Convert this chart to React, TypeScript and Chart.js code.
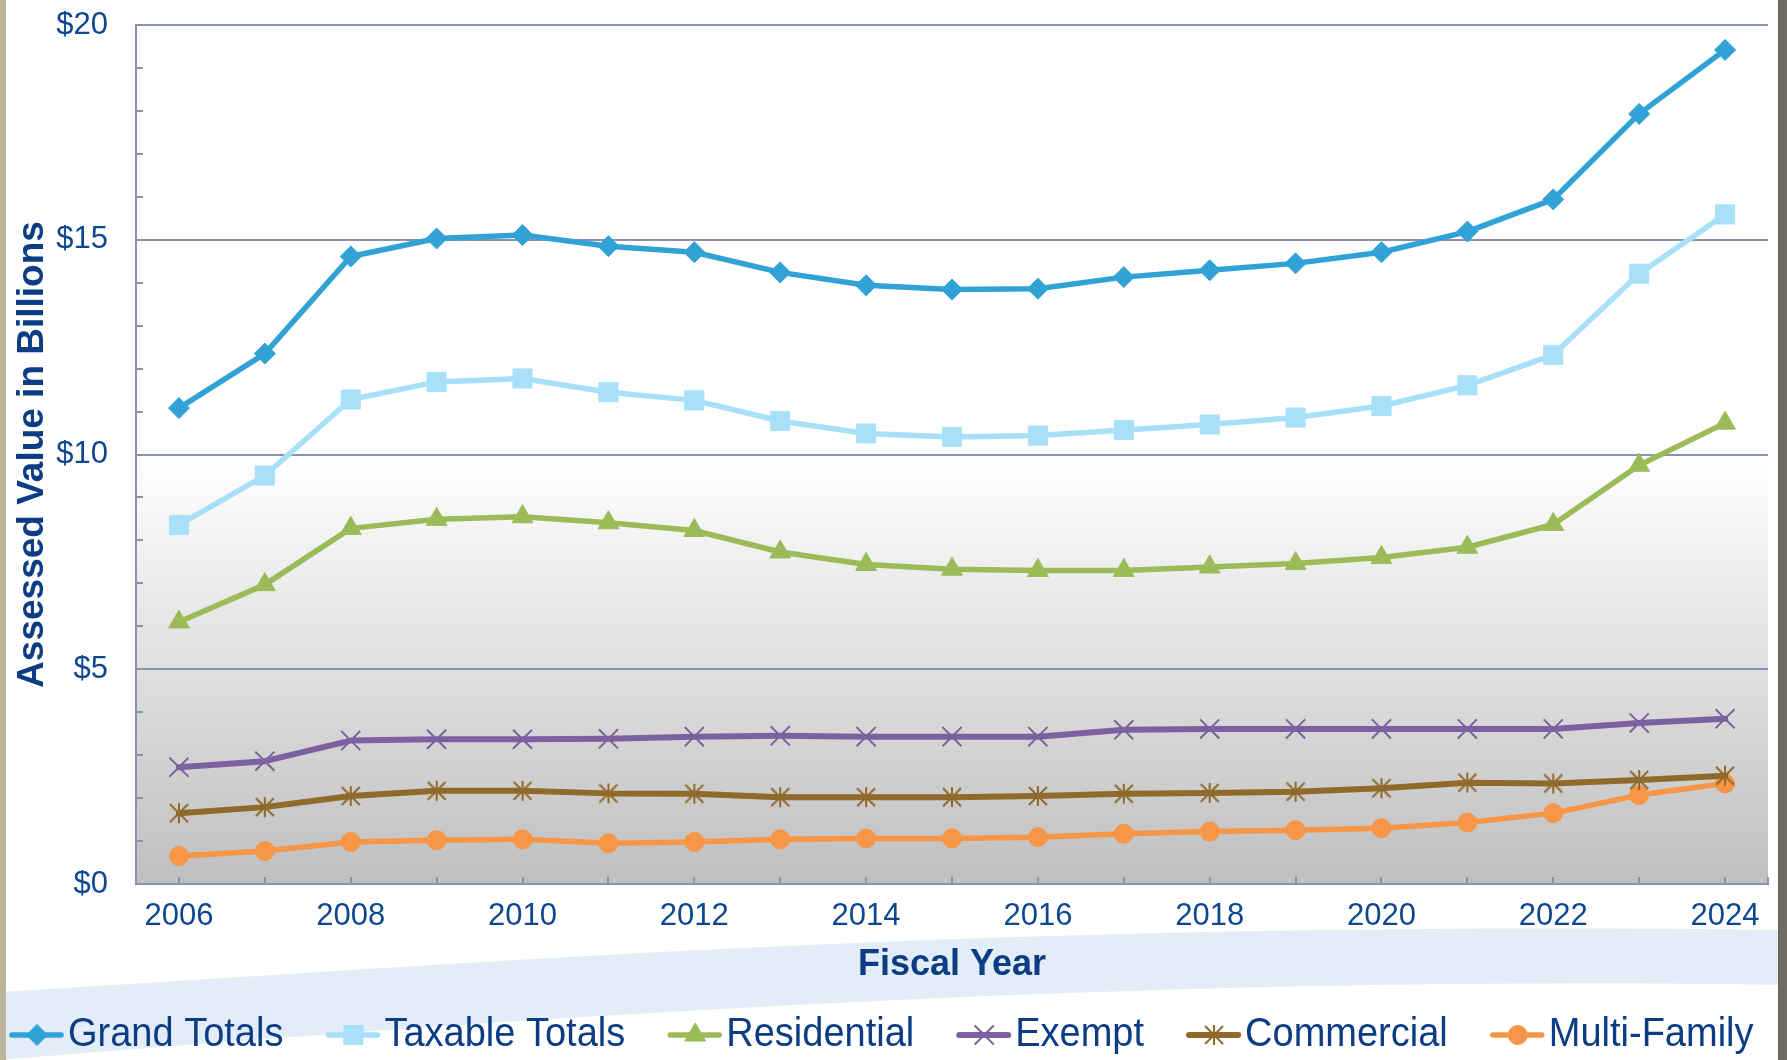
import React, { useEffect, useRef } from "react";
import { Chart, registerables } from "chart.js";
import { drawPoint } from "chart.js/helpers";

Chart.register(...registerables);

const years = ["2006","2007","2008","2009","2010","2011","2012","2013","2014","2015","2016","2017","2018","2019","2020","2021","2022","2023","2024"];
const grandTotals = [11.08,12.35,14.61,15.03,15.11,14.85,14.71,14.24,13.94,13.84,13.86,14.13,14.29,14.45,14.71,15.19,15.94,17.93,19.42];
const taxableTotals = [8.36,9.51,11.28,11.69,11.77,11.45,11.26,10.78,10.49,10.41,10.44,10.57,10.70,10.86,11.13,11.61,12.32,14.21,15.59];
const residential = [6.1,6.97,8.28,8.49,8.55,8.41,8.23,7.73,7.44,7.33,7.30,7.30,7.38,7.46,7.60,7.84,8.37,9.75,10.73];
const exempt = [2.72,2.86,3.34,3.37,3.37,3.38,3.43,3.45,3.43,3.43,3.43,3.59,3.61,3.61,3.61,3.61,3.61,3.75,3.85];
const commercial = [1.65,1.79,2.05,2.17,2.17,2.11,2.10,2.02,2.02,2.02,2.05,2.10,2.12,2.15,2.23,2.36,2.34,2.42,2.52];
const multiFamily = [0.65,0.77,0.98,1.02,1.04,0.95,0.98,1.04,1.06,1.06,1.09,1.17,1.22,1.25,1.30,1.43,1.65,2.07,2.34];

const yMin = 0;
const yMax = 20;
const yStep = 5;
const yMinorStep = 1;

const FONT = "'Liberation Sans', Arial, Helvetica, sans-serif";
const TICK_COLOR = "#0d4790";
const TITLE_COLOR = "#0b3c84";
const GRID_COLOR = "#8a92b2";

function makeStar(color: string, size: number, lw: number) {
  const c = document.createElement("canvas");
  c.width = size;
  c.height = size;
  const g = c.getContext("2d")!;
  g.strokeStyle = color;
  g.lineWidth = lw;
  const h = size / 2;
  const r = h - 1;
  const d = r * 0.9;
  g.beginPath();
  g.moveTo(h, h - r);
  g.lineTo(h, h + r);
  g.moveTo(h - d, h - d);
  g.lineTo(h + d, h + d);
  g.moveTo(h - d, h + d);
  g.lineTo(h + d, h - d);
  g.stroke();
  return c;
}

const bgPlugin = {
  id: "bgDecor",
  beforeDraw(chart: any) {
    const { ctx, width, height, chartArea: a, scales } = chart;
    const y = scales.y;
    ctx.save();
    ctx.fillStyle = "#ffffff";
    ctx.fillRect(0, 0, width, height);
    // swoosh
    ctx.beginPath();
    ctx.moveTo(0, 992);
    ctx.bezierCurveTo(500, 962, 1000, 920, width, 930);
    ctx.lineTo(width, 985);
    ctx.bezierCurveTo(1200, 975, 600, 1010, 0, 1060);
    ctx.closePath();
    ctx.fillStyle = "#e3edf7";
    ctx.fill();
    // side strips
    ctx.fillStyle = "#bdb49c";
    ctx.fillRect(0, 0, 6, height);
    ctx.fillStyle = "#6f6b60";
    ctx.fillRect(width - 9, 0, 9, height);
    // plot area gradient
    const yTop = y.getPixelForValue(10);
    const yBot = y.getPixelForValue(0);
    const gr = ctx.createLinearGradient(0, yTop, 0, yBot);
    gr.addColorStop(0, "#ffffff");
    gr.addColorStop(1, "#bfbfbf");
    ctx.fillStyle = gr;
    ctx.fillRect(a.left, yTop, a.right - a.left, yBot - yTop);
    ctx.restore();
  },
};

const ticksPlugin = {
  id: "innerTicks",
  afterDraw(chart: any) {
    const { ctx, chartArea: a, scales } = chart;
    const x = scales.x;
    const y = scales.y;
    ctx.save();
    ctx.strokeStyle = GRID_COLOR;
    ctx.lineWidth = 2;
    ctx.beginPath();
    for (let v = yMin; v <= yMax; v += yMinorStep) {
      const py = Math.round(y.getPixelForValue(v));
      ctx.moveTo(a.left, py);
      ctx.lineTo(a.left + 7, py);
    }
    for (let i = 0; i < years.length; i++) {
      const px = Math.round(x.getPixelForValue(i));
      ctx.moveTo(px, a.bottom);
      ctx.lineTo(px, a.bottom - 7);
    }
    ctx.moveTo(a.right, a.bottom);
    ctx.lineTo(a.right, a.bottom - 7);
    ctx.stroke();
    ctx.restore();
  },
};

const legendPlugin = {
  id: "lineLegend",
  afterDraw(chart: any) {
    const { ctx } = chart;
    ctx.save();
    ctx.font = `38px ${FONT}`;
    ctx.textBaseline = "middle";
    let x = 9;
    const yC = 1035;
    chart.data.datasets.forEach((ds: any) => {
      ctx.strokeStyle = ds.borderColor;
      ctx.lineWidth = ds.borderWidth;
      ctx.lineCap = "round";
      ctx.beginPath();
      ctx.moveTo(x + 3, yC);
      ctx.lineTo(x + 52, yC);
      ctx.stroke();
      ctx.fillStyle = ds.pointBackgroundColor;
      ctx.strokeStyle = ds.pointBorderColor;
      ctx.lineWidth = ds.pointBorderWidth;
      ctx.lineCap = "butt";
      drawPoint(ctx, { pointStyle: ds.pointStyle, radius: ds.pointRadius, borderWidth: ds.pointBorderWidth, rotation: 0 } as any, x + 28, yC);
      ctx.fillStyle = TITLE_COLOR;
      ctx.save();
      ctx.translate(x + 59, yC);
      ctx.scale(1, 1.07);
      ctx.fillText(ds.label, 0, 0);
      ctx.restore();
      x += 59 + ctx.measureText(ds.label).width + 42;
    });
    ctx.restore();
  },
};

function mkDataset(label: string, data: number[], color: string, lineWidth: number, pointStyle: any, radius: number, pbw: number) {
  return {
    label,
    data,
    borderColor: color,
    backgroundColor: color,
    borderWidth: lineWidth,
    pointStyle,
    pointRadius: radius,
    pointHoverRadius: radius,
    pointBackgroundColor: color,
    pointBorderColor: color,
    pointBorderWidth: pbw,
    borderJoinStyle: "round",
    borderCapStyle: "round",
    tension: 0,
    fill: false,
  };
}

export default function App() {
  const ref = useRef<HTMLCanvasElement | null>(null);
  useEffect(() => {
    document.body.style.margin = "0";
    const canvas = ref.current!;
    const star = makeStar("#8f6a2a", 22, 2);
    const chart = new Chart(canvas, {
      type: "line",
      data: {
        labels: years,
        datasets: [
          mkDataset("Grand Totals", grandTotals, "#31a2d6", 5.5, "rectRot", 10.5, 1),
          mkDataset("Taxable Totals", taxableTotals, "#a8e0fa", 5.5, "rect", 13.5, 1),
          mkDataset("Residential", residential, "#9bbb59", 5.5, "triangle", 12, 1),
          mkDataset("Exempt", exempt, "#7d60a0", 6, "crossRot", 13.5, 2),
          mkDataset("Commercial", commercial, "#8f6a2a", 6, star, 11, 2),
          mkDataset("Multi-Family", multiFamily, "#f79646", 5.5, "circle", 9.5, 1),
        ] as any,
      },
      options: {
        responsive: false,
        animation: false,
        devicePixelRatio: 1,
        layout: { padding: { top: 25, right: 19, left: 0, bottom: 0 } },
        plugins: { legend: { display: false }, tooltip: { enabled: false } },
        scales: {
          x: {
            offset: true,
            grid: { display: false, drawTicks: false, offset: false },
            border: { display: true, color: GRID_COLOR, width: 2 },
            ticks: {
              autoSkip: false,
              maxRotation: 0,
              padding: 14,
              color: TICK_COLOR,
              font: { size: 31, family: FONT },
              callback: function (this: any, v: any, i: number) {
                return i % 2 === 0 ? this.getLabelForValue(v) : "";
              },
            },
            title: {
              display: true,
              text: "Fiscal Year",
              color: TITLE_COLOR,
              font: { size: 36, weight: "bold", family: FONT },
              padding: { top: 0, bottom: 73 },
            },
            afterFit: (s: any) => {
              s.height = 176;
            },
          },
          y: {
            min: yMin,
            max: yMax,
            grid: {
              color: GRID_COLOR,
              lineWidth: 2,
              drawTicks: true,
              tickLength: 22,
              tickColor: "rgba(0,0,0,0)",
            },
            border: { display: true, color: GRID_COLOR, width: 2 },
            ticks: {
              stepSize: yStep,
              padding: 6,
              color: TICK_COLOR,
              font: { size: 31, family: FONT },
              callback: (v: any) => "$" + v,
            },
            title: {
              display: true,
              text: "Assessed Value in Billions",
              color: TITLE_COLOR,
              font: { size: 37, weight: "bold", family: FONT },
              padding: { top: 11, bottom: 0 },
            },
            afterFit: (s: any) => {
              s.width = 136;
            },
          },
        },
      } as any,
      plugins: [bgPlugin, ticksPlugin, legendPlugin],
    });
    return () => chart.destroy();
  }, []);
  return <canvas ref={ref} width={1787} height={1060} style={{ display: "block", width: 1787, height: 1060 }} />;
}
